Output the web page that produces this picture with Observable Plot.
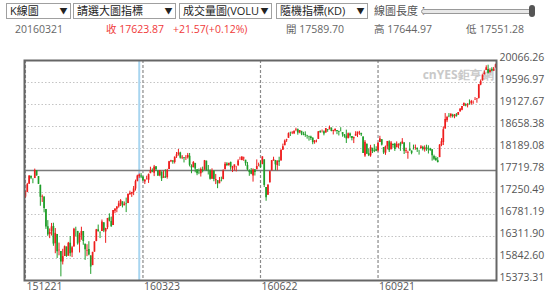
<!DOCTYPE html>
<html><head><meta charset="utf-8">
<script src="https://cdn.jsdelivr.net/npm/d3@7"></script>
<script src="https://cdn.jsdelivr.net/npm/@observablehq/plot@0.6"></script>
<style>
body{margin:0;background:#fff;font-family:"Open Sans","Noto Sans CJK TC",sans-serif;width:554px;height:298px;overflow:hidden;position:relative}
.sel{position:absolute;top:3px;height:16px;border:1px solid #a0a0a0;box-sizing:border-box;font-size:11px;line-height:14px;color:#222;padding-left:3px;white-space:nowrap;background:#fff}
.sel .arr{position:absolute;right:1px;top:0;width:11px;text-align:center;font-size:8px;line-height:14px}
.lbl{position:absolute;top:3px;font-size:11px;line-height:16px;color:#555}
.info{position:absolute;top:21px;font-size:10.5px;line-height:16px;color:#666;white-space:nowrap}
.red{color:#f03a3a}
#track{position:absolute;left:421px;top:9px;width:112px;height:3px;border:1px solid #999;border-radius:3px;background:#e8e8e8}
#knob{position:absolute;left:529px;top:5px;width:6px;height:12px;border-radius:3px;background:#555}
#chart{position:absolute;left:0;top:45px}
</style></head>
<body>
<div class="sel" style="left:6px;width:65px">K線圖<span class="arr">▼</span></div>
<div class="sel" style="left:73px;width:103px">請選大圖指標<span class="arr">▼</span></div>
<div class="sel" style="left:179px;width:93px">成交量圖(VOLU<span class="arr">▼</span></div>
<div class="sel" style="left:276px;width:92px">隨機指標(KD)<span class="arr">▼</span></div>
<div class="lbl" style="left:374px">線圖長度：</div>
<div id="track"></div><div id="knob"></div>
<div class="info" style="left:15px">20160321</div>
<div class="info red" style="left:106px">收 17623.87</div>
<div class="info red" style="left:173px">+21.57(+0.12%)</div>
<div class="info" style="left:286px">開 17589.70</div>
<div class="info" style="left:374px">高 17644.97</div>
<div class="info" style="left:466px">低 17551.28</div>
<div id="chart"></div>
<script>
// Trading dates (YYMMDD)
const dates = [
 "151221 151222 151223 151224 151228 151229 151230 151231",
 "160104 160105 160106 160107 160108 160111 160112 160113 160114 160115 160119 160120 160121 160122 160125 160126 160127 160128 160129",
 "160201 160202 160203 160204 160205 160208 160209 160210 160211 160212 160216 160217 160218 160219 160222 160223 160224 160225 160226 160229",
 "160301 160302 160303 160304 160307 160308 160309 160310 160311 160314 160315 160316 160317 160318 160321 160322 160323 160324 160328 160329 160330 160331",
 "160401 160404 160405 160406 160407 160408 160411 160412 160413 160414 160415 160418 160419 160420 160421 160422 160425 160426 160427 160428 160429",
 "160502 160503 160504 160505 160506 160509 160510 160511 160512 160513 160516 160517 160518 160519 160520 160523 160524 160525 160526 160527 160531",
 "160601 160602 160603 160606 160607 160608 160609 160610 160613 160614 160615 160616 160617 160620 160621 160622 160623 160624 160627 160628 160629 160630",
 "160701 160705 160706 160707 160708 160711 160712 160713 160714 160715 160718 160719 160720 160721 160722 160725 160726 160727 160728 160729",
 "160801 160802 160803 160804 160805 160808 160809 160810 160811 160812 160815 160816 160817 160818 160819 160822 160823 160824 160825 160826 160829 160830 160831",
 "160901 160902 160906 160907 160908 160909 160912 160913 160914 160915 160916 160919 160920 160921 160922 160923 160926 160927 160928 160929 160930",
 "161003 161004 161005 161006 161007 161010 161011 161012 161013 161014 161017 161018 161019 161020 161021 161024 161025 161026 161027 161028 161031",
 "161101 161102 161103 161104 161107 161108 161109 161110 161111 161114 161115 161116 161117 161118 161121 161122 161123 161125 161128 161129 161130",
 "161201 161202 161205 161206 161207 161208 161209 161212 161213 161214 161215 161216 161219 161220"
].join(" ").split(" ");

const open = [
 17154,17253,17427,17593,17535,17548,17711,17590,
 17405,17147,17154,16889,16520,16358,16420,16526,16159,16355,16009,15990,15768,15885,16087,15893,16168,15960,16090,
 16452,16420,16185,16327,16418,16148,16003,16035,15898,15691,15978,16203,16453,16405,16418,16604,16411,16499,16712,16634,
 16546,16852,16894,16945,16991,17051,16969,17006,17014,17207,17217,17249,17325,17481,17589.70,17603,17580,17476,17526,17512,17652,17717,
 17661,17799,17708,17605,17688,17555,17586,17571,17742,17904,17925,17890,18012,18060,18092,17986,17991,17987,17990,18023,17813,
 17783,17871,17736,17664,17650,17732,17726,17919,17727,17711,17531,17702,17501,17502,17437,17501,17525,17735,17859,17826,17892,
 17754,17789,17799,17826,17936,17931,17969,17938,17830,17711,17703,17602,17734,17736,17827,17844,17845,17947,17355,17190,17456,17713,
 17924,17934,17825,17925,17924,18154,18248,18357,18407,18524,18521,18504,18583,18590,18525,18555,18491,18490,18466,18443,
 18434,18409,18314,18351,18383,18550,18529,18545,18519,18592,18588,18625,18554,18564,18571,18545,18551,18530,18482,18453,18404,18500,18445,
 18396,18452,18492,18521,18512,18437,18028,18281,18079,18031,18193,18138,18166,18139,18317,18377,18210,18089,18228,18332,18162,
 18279,18282,18205,18251,18295,18282,18308,18133,18089,18177,18135,18169,18191,18191,18147,18183,18214,18159,18206,18173,18181,
 18162,18017,17978,17928,17995,18252,18317,18604,18781,18877,18873,18900,18866,18905,18898,18970,19004,19093,19122,19101,19140,
 19149,19168,19213,19237,19257,19543,19632,19762,19853,19876,19811,19877,19836,19911
];
const high = [
 17272,17445,17607,17606,17536,17750,17714,17590,
 17405,17196,17154,16889,16651,16473,16591,16595,16482,16355,16171,15990,16039,16109,16087,16186,16311,16102,16486,
 16510,16420,16381,16510,16418,16148,16137,16201,15898,15974,16200,16463,16556,16405,16664,16604,16485,16697,16795,16726,
 16866,16900,16944,17063,17099,17051,17048,17131,17214,17279,17252,17379,17515,17620,17644.97,17653,17583,17521,17598,17645,17790,17755,
 17828,17800,17708,17716,17688,17708,17735,17744,17915,17937,17928,18009,18104,18168,18109,18038,17991,18037,18084,18083,17841,
 17911,17871,17736,17751,17774,17792,17934,17919,17826,17734,17755,17716,17636,17502,17571,17578,17735,17892,17887,17873,17899,
 17809,17838,17799,17950,18003,18016,18005,17938,17892,17733,17762,17754,17734,17946,17877,17921,18011,17947,17355,17410,17704,17930,
 18003,17934,17926,18003,18166,18283,18371,18387,18522,18538,18546,18562,18622,18606,18571,18555,18535,18544,18470,18451,
 18452,18417,18355,18369,18552,18569,18584,18565,18614,18592,18668,18625,18577,18604,18571,18560,18633,18530,18486,18581,18519,18519,18445,
 18434,18547,18539,18555,18512,18437,18359,18281,18182,18257,18193,18272,18226,18314,18450,18377,18210,18241,18340,18353,18339,
 18280,18299,18330,18289,18321,18400,18312,18196,18131,18313,18135,18261,18263,18201,18151,18251,18236,18245,18260,18247,18193,
 18163,18047,18012,17997,18272,18400,18650,18935,18875,18935,18925,18919,18915,18935,18957,19043,19084,19153,19143,19147,19225,
 19215,19202,19275,19253,19550,19650,19757,19843,19953,19966,19888,19912,19918,19988
];
const low = [
 17129,17253,17427,17525,17437,17548,17599,17421,
 16957,17038,16817,16463,16315,16266,16322,16103,15944,15843,15900,15451,15705,15885,15868,15893,15878,15863,16090,
 16299,16127,15960,16231,16125,15803,15881,15899,15503,15691,15978,16203,16409,16267,16418,16394,16166,16457,16623,16511,
 16546,16798,16819,16916,16951,16921,16964,16822,17014,17187,17146,17184,17281,17481,17551.28,17547,17485,17420,17517,17444,17652,17672,
 17589,17703,17592,17587,17485,17555,17556,17536,17742,17888,17854,17858,17977,18027,17963,17952,17881,17934,17964,17797,17651,
 17773,17670,17609,17631,17580,17669,17726,17711,17624,17515,17531,17480,17419,17332,17437,17477,17525,17735,17803,17810,17724,
 17676,17707,17689,17804,17936,17931,17915,17812,17712,17596,17629,17472,17602,17736,17799,17770,17845,17356,17063,17190,17456,17711,
 17916,17714,17713,17807,17924,18154,18248,18320,18407,18445,18486,18486,18547,18473,18504,18463,18460,18427,18388,18346,
 18361,18270,18280,18310,18383,18511,18521,18459,18519,18535,18588,18545,18478,18542,18484,18456,18547,18430,18409,18296,18392,18410,18352,
 18294,18452,18422,18469,18444,18085,18000,18065,18016,18002,18081,18101,18121,18112,18317,18243,18062,18043,18160,18104,18162,
 18194,18127,18205,18181,18129,18282,18061,18082,17960,18130,18056,18162,18153,18105,18048,18183,18137,18112,18129,18072,18131,
 17920,17931,17913,17883,17995,18228,18252,18604,18741,18845,18836,18840,18824,18860,18898,18970,18994,19093,19078,19055,19117,
 19111,19130,19213,19155,19245,19528,19631,19761,19853,19778,19795,19825,19836,19904
];
const close = [
 17252,17417,17603,17552,17528,17721,17604,17425,
 17149,17159,16907,16514,16346,16399,16516,16151,16379,15988,16016,15767,15883,16094,15885,16167,15944,16070,16466,
 16449,16154,16337,16417,16205,16027,16014,15915,15660,15974,16196,16454,16413,16392,16621,16432,16485,16697,16640,16517,
 16865,16899,16944,17007,17074,16964,17000,16995,17213,17229,17252,17326,17481,17602,17623.87,17583,17503,17516,17535,17633,17717,17685,
 17793,17737,17603,17716,17542,17577,17556,17721,17908,17926,17897,18004,18054,18096,17983,18004,17977,17990,18042,17831,17774,
 17891,17751,17651,17661,17741,17706,17928,17711,17721,17535,17711,17530,17527,17435,17501,17493,17706,17852,17828,17873,17787,
 17790,17839,17807,17920,17938,18005,17985,17865,17732,17675,17640,17733,17675,17805,17830,17781,18011,17401,17140,17410,17695,17930,
 17949,17841,17919,17896,18147,18227,18348,18372,18506,18517,18533,18559,18595,18517,18571,18493,18474,18472,18456,18432,
 18405,18314,18355,18352,18544,18529,18533,18496,18614,18576,18636,18552,18574,18598,18553,18529,18547,18481,18448,18395,18503,18454,18401,
 18419,18492,18538,18526,18480,18085,18325,18067,18035,18212,18124,18120,18130,18294,18392,18261,18095,18228,18339,18143,18308,
 18254,18168,18281,18269,18240,18329,18129,18144,18099,18138,18086,18162,18203,18162,18146,18223,18169,18199,18170,18161,18142,
 18037,17960,17931,17888,18260,18333,18590,18808,18848,18869,18923,18868,18904,18868,18957,19024,19083,19152,19098,19122,19124,
 19192,19170,19216,19252,19550,19615,19757,19796,19911,19793,19852,19843,19883,19975
];

const yTicks = [15373.31,15842.60,16311.90,16781.19,17250.49,17719.78,18189.08,18658.38,19127.67,19596.97,20066.26];
const refLevel = 17719.78;
const xTickDates = ["151221","160323","160622","160921"];
const hoverDate = "160321";
const watermark = "cnYES鉅亨網";

const RED = "#ee1c1c", GREEN = "#1f9e2a";
const N = close.length;
const data = d3.range(N).map(i => ({i, d: dates[i], o: open[i], h: high[i], l: low[i], c: close[i],
  col: close[i] >= open[i] ? RED : GREEN}));
const xTickIdx = xTickDates.map(d => dates.indexOf(d));
const hoverIdx = dates.indexOf(hoverDate);

const chart = Plot.plot({
  width: 554, height: 253,
  marginLeft: 24, marginRight: 58, marginTop: 15, marginBottom: 18,
  x: {type: "linear", domain: [-0.5, N - 0.5]},
  y: {domain: [yTicks[0], yTicks[yTicks.length - 1]]},
  color: {type: "identity"},
  style: {fontFamily: "'Open Sans', sans-serif", fontSize: "10.5px", background: "#fff", color: "#555"},
  marks: [
    Plot.ruleY(yTicks.filter(v => v !== refLevel), {stroke: "#c4c4c4", strokeWidth: 1, strokeDasharray: "1.5,2"}),
    Plot.ruleX(xTickIdx, {stroke: "#8a8a8a", strokeWidth: 1.2, strokeDasharray: "3,2"}),
    Plot.ruleX([hoverIdx], {stroke: "#a8d5f0", strokeWidth: 2}),
    Plot.ruleY([refLevel], {stroke: "#7a7a7a", strokeWidth: 1.5}),
    Plot.text([watermark], {frameAnchor: "top-right", dx: -3, dy: 10, fill: "#c9c9c9", fontWeight: "bold", fontSize: 12}),
    Plot.ruleX(data, {x: "i", y1: "l", y2: "h", stroke: "col", strokeWidth: 1}),
    Plot.ruleX(data, {x: "i", y1: "o", y2: "c", stroke: "col", strokeWidth: 1.7}),
    Plot.frame({stroke: "#666", strokeWidth: 2}),
    Plot.axisY(yTicks, {anchor: "right", tickSize: 0, tickPadding: 3, dy: -3, textAnchor: "start",
      tickFormat: d => d.toFixed(2), fill: "#555", label: null}),
    Plot.axisX(xTickIdx, {anchor: "bottom", tickSize: 0, tickPadding: 2, textAnchor: "start", dx: 1,
      tickFormat: i => dates[i], fill: "#555", label: null})
  ]
});
document.getElementById("chart").appendChild(chart);
</script>
</body></html>
